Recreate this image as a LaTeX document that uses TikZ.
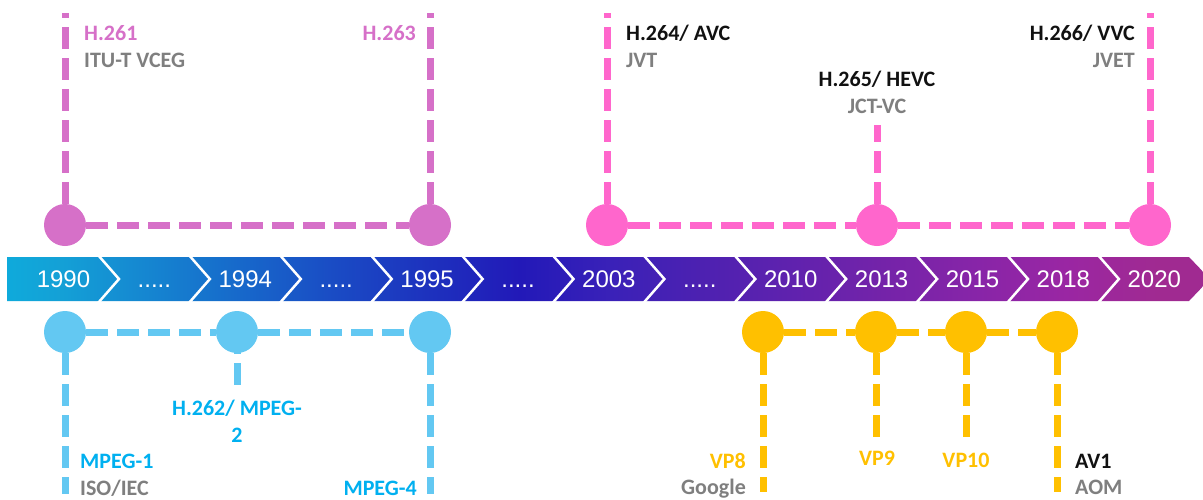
\documentclass[tikz,border=0pt]{standalone}
\usepackage{fontspec}
\setmainfont{Carlito}
\newfontfamily\yearfont{Liberation Sans}

% line and text colours
\definecolor{itu}{HTML}{D670C8}
\definecolor{jvt}{HTML}{FF66CC}
\definecolor{mpeg}{HTML}{63C8F2}
\definecolor{mpegtext}{HTML}{00B0F0}
\definecolor{vpx}{HTML}{FFC000}
\definecolor{org}{HTML}{7F7F7F}
\definecolor{codec}{HTML}{111111}

% colours of the year band, left to right
\definecolor{bL}{HTML}{0FAADB}
\definecolor{b0}{HTML}{14A0D6}
\definecolor{b1}{HTML}{1583D0}
\definecolor{b2}{HTML}{1766CA}
\definecolor{b3}{HTML}{1A4AC4}
\definecolor{b4}{HTML}{1D31BE}
\definecolor{b5}{HTML}{2219B8}
\definecolor{b6}{HTML}{3A21B8}
\definecolor{b7}{HTML}{4D21B1}
\definecolor{b8}{HTML}{6022AE}
\definecolor{b9}{HTML}{7423A9}
\definecolor{b10}{HTML}{8725A8}
\definecolor{b11}{HTML}{9A26A3}
\definecolor{b12}{HTML}{A02A91}

\pgfdeclarehorizontalshading{bandshade}{100bp}{%
  color(0bp)=(bL); color(25bp)=(bL); color(27.3bp)=(b0); color(31.2bp)=(b1);
  color(35bp)=(b2); color(38.8bp)=(b3); color(42.6bp)=(b4); color(46.3bp)=(b5);
  color(50.1bp)=(b6); color(53.9bp)=(b7); color(57.7bp)=(b8); color(61.4bp)=(b9);
  color(65.2bp)=(b10); color(69bp)=(b11); color(72.8bp)=(b12); color(75bp)=(b12);
  color(100bp)=(b12)}

\tikzset{
  milestone/.style={circle, minimum size=42pt, inner sep=0pt, fill=#1},
  conn/.style={draw=#1, line width=7pt, dash pattern=on 22pt off 9pt},
  lbl/.style={font=\fontsize{22}{27}\selectfont\bfseries, inner sep=0pt, text=#1},
  yr/.style={font=\yearfont\fontsize{24}{28}\selectfont, text=white, inner sep=0pt, anchor=base},
  sep/.style={draw=white, line width=2.5pt, line join=miter},
}

\begin{document}
\begin{tikzpicture}[x=1pt,y=-1pt]
\useasboundingbox (0,0) rectangle (1203,499);
\clip (0,0) rectangle (1203,499);
\fill[white] (0,0) rectangle (1203,499);

% year band with chevron separators
\path[shading=bandshade] (7,257) -- (1189,257) -- (1210,279) -- (1189,301) -- (7,301) -- cycle;
\foreach \i in {0,...,11} {
  \pgfmathsetmacro\bx{98+90.9*\i}
  \draw[sep] (\bx,255) -- (\bx+21,279) -- (\bx,303);
}

\node[yr] (yr0)  at (63.5,287) {1990};
\node[yr] (yr1)  at (154.4,287) {.....};
\node[yr] (yr2)  at (245.3,287) {1994};
\node[yr] (yr3)  at (336.2,287) {.....};
\node[yr] (yr4)  at (427.1,287) {1995};
\node[yr] (yr5)  at (518,287) {.....};
\node[yr] (yr6)  at (608.9,287) {2003};
\node[yr] (yr7)  at (699.8,287) {.....};
\node[yr] (yr8)  at (790.7,287) {2010};
\node[yr] (yr9)  at (881.6,287) {2013};
\node[yr] (yr10) at (972.5,287) {2015};
\node[yr] (yr11) at (1063.4,287) {2018};
\node[yr] (yr12) at (1154.3,287) {2020};

% milestones above the band
\node[milestone=itu] (h261) at (65,225) {};
\node[milestone=itu] (h263) at (430,225) {};
\node[milestone=jvt] (h264) at (607,225) {};
\node[milestone=jvt] (h265) at (877,225) {};
\node[milestone=jvt] (h266) at (1150,225) {};

% milestones below the band
\node[milestone=mpeg] (m1) at (65,332) {};
\node[milestone=mpeg] (m2) at (237,332) {};
\node[milestone=mpeg] (m4) at (430,332) {};
\node[milestone=vpx] (vp8) at (763,332) {};
\node[milestone=vpx] (vp9) at (876,332) {};
\node[milestone=vpx] (vp10) at (966,332) {};
\node[milestone=vpx] (av1) at (1057,332) {};

% free ends of the stems
\coordinate (h261top) at (65,13);
\coordinate (h263top) at (430,13);
\coordinate (h264top) at (607,13);
\coordinate (h265top) at (877,125);
\coordinate (h266top) at (1150,13);
\coordinate (m1bot) at (65,494);
\coordinate (m2bot) at (237,386);
\coordinate (m4bot) at (430,494);
\coordinate (vp8bot) at (763,492);
\coordinate (vp9bot) at (876,437);
\coordinate (vp10bot) at (966,440);
\coordinate (av1bot) at (1057,492);

% ITU-T VCEG
\draw[conn=itu] (h261.north) -- (h261top);
\draw[conn=itu] (h263.north) -- (h263top);
\draw[conn=itu] (h261.east) -- (h263.west);

% joint teams
\draw[conn=jvt] (h264.north) -- (h264top);
\draw[conn=jvt] (h265.north) -- (h265top);
\draw[conn=jvt] (h266.north) -- (h266top);
\draw[conn=jvt] (h264.east) -- (h265.west);
\draw[conn=jvt] (h265.east) -- (h266.west);

% ISO/IEC MPEG
\draw[conn=mpeg] (m1.east) -- (m2.west);
\draw[conn=mpeg] (m2.east) -- (m4.west);
\draw[conn=mpeg] (m1.south) -- (m1bot);
\draw[conn=mpeg] (m2.center) -- (m2bot);
\draw[conn=mpeg] (m4.south) -- (m4bot);

% Google / AOM
\draw[conn=vpx] (vp8.east) -- (vp9.west);
\draw[conn=vpx] (vp9.east) -- (vp10.west);
\draw[conn=vpx] (vp10.east) -- (av1.west);
\draw[conn=vpx] (vp8.south) -- (vp8bot);
\draw[conn=vpx] (vp9.south) -- (vp9bot);
\draw[conn=vpx] (vp10.south) -- (vp10bot);
\draw[conn=vpx] (av1.south) -- (av1bot);

% labels
\node[lbl=itu, anchor=base west] (t261) at (84,40) {H.261};
\node[lbl=org, anchor=base west] (o261) at (84,67) {ITU-T VCEG};
\node[lbl=itu, anchor=base east] (t263) at (416,40) {H.263};
\node[lbl=codec, anchor=base west] (t264) at (626,40) {H.264/ AVC};
\node[lbl=org, anchor=base west] (o264) at (626,67) {JVT};
\node[lbl=codec, anchor=base] (t265) at (877,86) {H.265/ HEVC};
\node[lbl=org, anchor=base] (o265) at (877,113) {JCT-VC};
\node[lbl=codec, anchor=base east] (t266) at (1135,40) {H.266/ VVC};
\node[lbl=org, anchor=base east] (o266) at (1135,67) {JVET};

\node[lbl=mpegtext, anchor=base west] (tm1) at (80,468) {MPEG-1};
\node[lbl=org, anchor=base west] (om1) at (80,495) {ISO/IEC};
\node[lbl=mpegtext, anchor=base] (tm2a) at (237,415) {H.262/ MPEG-};
\node[lbl=mpegtext, anchor=base] (tm2b) at (237,442) {2};
\node[lbl=mpegtext, anchor=base east] (tm4) at (417,495) {MPEG-4};

\node[lbl=vpx, anchor=base east] (tvp8) at (746,468) {VP8};
\node[lbl=org, anchor=base east] (ovp8) at (746,494) {Google};
\node[lbl=vpx, anchor=base] (tvp9) at (877,465) {VP9};
\node[lbl=vpx, anchor=base] (tvp10) at (966,467) {VP10};
\node[lbl=codec, anchor=base west] (tav1) at (1075,468) {AV1};
\node[lbl=org, anchor=base west] (oav1) at (1075,494) {AOM};
\end{tikzpicture}
\end{document}
